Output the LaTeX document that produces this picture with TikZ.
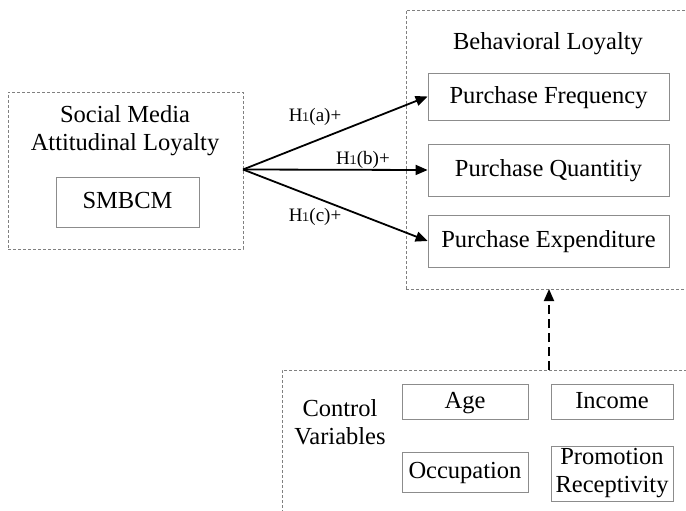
\documentclass[tikz,border=0pt]{standalone}
\usepackage{fontspec}
\setmainfont{Liberation Serif}
\newfontfamily\osf[Numbers=OldStyle]{Latin Modern Roman}
\usetikzlibrary{arrows.meta}
\tikzset{
  solidbox/.style={draw=black!45, line width=0.8pt, inner sep=0pt, font=\fontsize{24.5}{28}\selectfont},
  onerow/.style={text height=19pt, text depth=5.4pt},
  groupbox/.style={draw=black!50, line width=0.6pt, dash pattern=on 3pt off 2pt, inner sep=0pt},
  lbl/.style={inner sep=0pt, align=center, font=\fontsize{24.5}{28}\selectfont},
  hyp/.style={inner sep=0pt, font=\fontsize{19}{22}\selectfont},
  link/.style={line width=1.8pt, -{Triangle[length=12pt,width=10pt]}},
}
\begin{document}
\begin{tikzpicture}[x=1pt,y=-1pt]
\useasboundingbox (0,0) rectangle (686,511);
% group boxes
\node[groupbox, minimum width=235pt, minimum height=157pt] (smal) at (125.5,170.5) {};
\node[groupbox, minimum width=300pt, minimum height=279pt] (bl) at (556,149.5) {};
\node[groupbox, minimum width=420pt, minimum height=160pt] (cv) at (492,450) {};
% left group
\node[lbl] (smaltitle) at (125,131) {Social Media\\Attitudinal Loyalty};
\node[solidbox, onerow, minimum width=143pt, minimum height=50pt] (smbcm) at (127.5,202) {SMBCM};
% right group
\node[lbl] (bltitle) at (548,44) {Behavioral Loyalty};
\node[solidbox, onerow, minimum width=241pt, minimum height=47pt] (pf) at (548.5,96.5) {Purchase Frequency};
\node[solidbox, onerow, minimum width=241pt, minimum height=52pt] (pq) at (548.5,170) {Purchase Quantitiy};
\node[solidbox, onerow, minimum width=241pt, minimum height=52pt] (pe) at (548.5,241) {Purchase Expenditure};
% control variables
\node[lbl] (cvtitle) at (340,422) {Control\\Variables};
\node[solidbox, onerow, minimum width=126pt, minimum height=35pt] (age) at (465,401.5) {Age};
\node[solidbox, onerow, minimum width=122pt, minimum height=35pt] (inc) at (612,401.5) {Income};
\node[solidbox, onerow, minimum width=126pt, minimum height=40pt] (occ) at (465,472) {Occupation};
\node[solidbox, align=center, minimum width=122pt, minimum height=55pt] (pr) at (612,473.5) {Promotion\\Receptivity};
% arrows
\coordinate (src) at (243,169.5);
\draw[link] (src) -- (pf.west);
\draw[link] (src) -- (pq.west);
\draw[link] (src) -- (pe.west);
\node[hyp] (ha) at (315,117) {H{\osf 1}(a)+};
\node[hyp] (hb) at (363,160) {H{\osf 1}(b)+};
\node[hyp] (hc) at (315,217) {H{\osf 1}(c)+};
\coordinate (cvtop) at (549,370);
\coordinate (blbot) at (549,289);
\draw[line width=1.8pt, dash pattern=on 9pt off 5pt, -{Triangle[length=12pt,width=10pt]}] (cvtop) -- (blbot);
\end{tikzpicture}
\end{document}
